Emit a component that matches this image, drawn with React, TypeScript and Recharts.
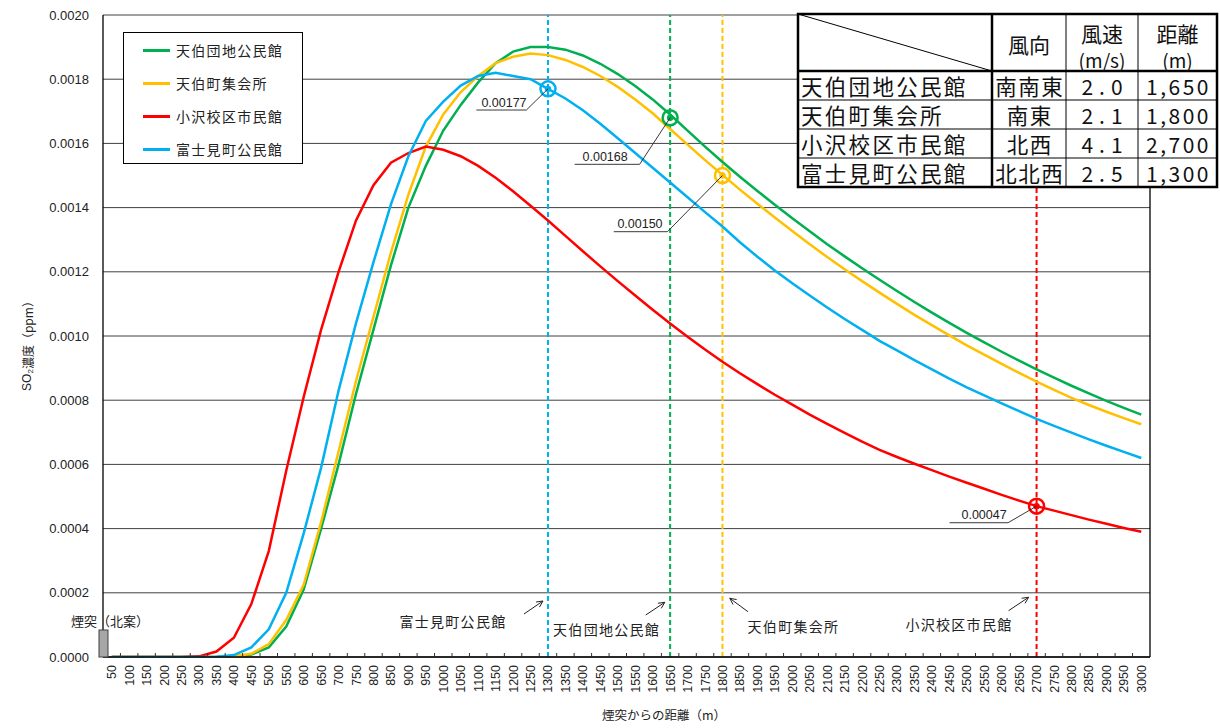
import React from 'react';
import { LineChart, Line, XAxis, YAxis, CartesianGrid, ReferenceLine, ReferenceDot, Legend } from 'recharts';

// ---- data ----
const distances = [
  50, 100, 150, 200, 250, 300, 350, 400, 450, 500,
  550, 600, 650, 700, 750, 800, 850, 900, 950, 1000,
  1050, 1100, 1150, 1200, 1250, 1300, 1350, 1400, 1450, 1500,
  1550, 1600, 1650, 1700, 1750, 1800, 1850, 1900, 1950, 2000,
  2050, 2100, 2150, 2200, 2250, 2300, 2350, 2400, 2450, 2500,
  2550, 2600, 2650, 2700, 2750, 2800, 2850, 2900, 2950, 3000,
];

// 天伯団地公民館
const tenpakuDanchi = [
  0, 0, 0, 0, 0, 0, 0, 0.000001, 0.000008, 0.00003,
  0.000095, 0.00021, 0.0004, 0.0006, 0.00082, 0.00102, 0.00122, 0.0014, 0.00153, 0.00164,
  0.00172, 0.00179, 0.00185, 0.001886, 0.0019, 0.0019, 0.001892, 0.001874, 0.001848, 0.001816,
  0.001779, 0.001737, 0.00169, 0.00164, 0.00159, 0.001542, 0.001496, 0.001452, 0.001409, 0.001367,
  0.001326, 0.001286, 0.001248, 0.001211, 0.001175, 0.00114, 0.001106, 0.001073, 0.001041, 0.00101,
  0.00098, 0.000951, 0.000923, 0.000896, 0.00087, 0.000845, 0.000821, 0.000798, 0.000776, 0.000755,
];

// 天伯町集会所
const tenpakuCho = [
  0, 0, 0, 0, 0, 0, 0, 0.000002, 0.00001, 0.00004,
  0.000115, 0.000225, 0.00042, 0.00064, 0.00086, 0.00106, 0.00126, 0.00144, 0.00159, 0.00169,
  0.00176, 0.00181, 0.00185, 0.00187, 0.00188, 0.001875, 0.00186, 0.001838, 0.00181, 0.001776,
  0.001737, 0.001694, 0.001645, 0.001596, 0.001548, 0.001502, 0.001456, 0.001412, 0.001369, 0.001327,
  0.001286, 0.001246, 0.001208, 0.001171, 0.001135, 0.0011, 0.001066, 0.001034, 0.001002, 0.000971,
  0.000942, 0.000913, 0.000885, 0.000858, 0.000832, 0.000807, 0.000785, 0.000764, 0.000744, 0.000725,
];

// 小沢校区市民館
const kozawa = [
  0, 0, 0, 0, 0, 0.000002, 0.000017, 0.00006, 0.000165, 0.00033,
  0.00058, 0.00081, 0.00102, 0.0012, 0.00136, 0.00147, 0.00154, 0.00157, 0.00159, 0.00158,
  0.00156, 0.00153, 0.001493, 0.001451, 0.001406, 0.00136, 0.001312, 0.001264, 0.001217, 0.001171,
  0.001126, 0.001082, 0.001039, 0.000998, 0.000958, 0.00092, 0.000884, 0.00085, 0.000817, 0.000786,
  0.000755, 0.000726, 0.000698, 0.000671, 0.000645, 0.000623, 0.000602, 0.000582, 0.000562, 0.000543,
  0.000524, 0.000505, 0.000487, 0.00047, 0.000456, 0.000442, 0.000428, 0.000415, 0.000402, 0.00039,
];

// 富士見町公民館
const fujimi = [
  0, 0, 0, 0, 0, 0, 0.000001, 0.000006, 0.00003, 0.000086,
  0.0002, 0.000385, 0.00059, 0.00083, 0.00104, 0.00123, 0.00141, 0.00156, 0.00167, 0.00173,
  0.00178, 0.00181, 0.00182, 0.00181, 0.0018, 0.00177, 0.00174, 0.001703, 0.001661, 0.001616,
  0.00157, 0.001524, 0.001478, 0.001432, 0.001386, 0.001341, 0.001292, 0.001247, 0.001204, 0.001164,
  0.001126, 0.001089, 0.001053, 0.001019, 0.000985, 0.000955, 0.000925, 0.000896, 0.000867, 0.00084,
  0.000815, 0.00079, 0.000766, 0.000742, 0.00072, 0.000699, 0.000678, 0.000658, 0.000639, 0.00062,
];

const stationNames = ['天伯団地公民館', '天伯町集会所', '小沢校区市民館', '富士見町公民館'];
const seriesValues = [tenpakuDanchi, tenpakuCho, kozawa, fujimi];
const windDirections = ['南南東', '南東', '北西', '北北西'];
const windSpeeds = ['2.0', '2.1', '4.1', '2.5'];
const receptorDistances = [1650, 1800, 2700, 1300];
const receptorValues = [0.00168, 0.0015, 0.00047, 0.00177];
const receptorLabels = ['0.00168', '0.00150', '0.00047', '0.00177'];
const yTicks = [0, 0.0002, 0.0004, 0.0006, 0.0008, 0.001, 0.0012, 0.0014, 0.0016, 0.0018, 0.002];

// ---- styles / layout ----
const seriesKeys = ['s0', 's1', 's2', 's3'];
const seriesColors = ['#00B050', '#FFC000', '#FF0000', '#00B0F0'];
const JP = '"Noto Sans CJK JP", "Noto Sans", sans-serif';
const NUM = '"Liberation Sans", Arial, sans-serif';

const chartData = distances.map((d, i) => {
  const row: any = { d };
  seriesKeys.forEach((k, s) => (row[k] = seriesValues[s][i]));
  return row;
});

const boundaries = distances.slice(0, -1).map((d, i) => (d + distances[i + 1]) / 2);
const xTicks = [...distances, ...boundaries].sort((a, b) => a - b);
const distSet = new Set(distances);
const xMin = distances[0] - (distances[1] - distances[0]) / 2;
const xMax = distances[distances.length - 1] + (distances[1] - distances[0]) / 2;

// annotation layouts (offsets in px from the marker centre)
const markerLayout = [
  { ux0: -95.5, ux1: -30.5, uy: 46.6, tx: -65 },
  { ux0: -108.7, ux1: -55, uy: 56.2, tx: -82.5 },
  { ux0: -87, ux1: -28.5, uy: 16.6, tx: -52.5 },
  { ux0: -71.6, ux1: -21.6, uy: 21.2, tx: -44 },
];
const stationLabelLayout = [
  { tx: -63.5, ty: -28, ax0: -24.4, ay0: -42, ax1: -5.3, ay1: -54.7 },
  { tx: 71, ty: -31, ax0: 25.5, ay0: -45.3, ax1: 7.3, ay1: -58.7 },
  { tx: -77.6, ty: -33, ax0: -28, ay0: -46.3, ax1: -8, ay1: -59.7 },
  { tx: -95, ty: -36, ax0: -24, ay0: -43, ax1: -5, ay1: -56 },
];

const XTick = (props: any) => {
  const { x, y, payload } = props;
  const v = payload.value;
  if (distSet.has(v)) {
    return (
      <text x={x} y={y} transform={`rotate(-90 ${x} ${y})`} textAnchor="end" dy="0.36em"
        fontSize={12.5} fontFamily={NUM} fill="#222">{v}</text>
    );
  }
  return <line x1={x} x2={x} y1={y - 8} y2={y - 12} stroke="#333" strokeWidth={1} />;
};

const Arrow = ({ x0, y0, x1, y1 }: any) => {
  const ang = Math.atan2(y1 - y0, x1 - x0);
  const L = 7;
  const a1 = ang + Math.PI - 0.45;
  const a2 = ang + Math.PI + 0.45;
  return (
    <g stroke="#222" strokeWidth={1} fill="none">
      <line x1={x0} y1={y0} x2={x1} y2={y1} />
      <polyline points={`${x1 + L * Math.cos(a1)},${y1 + L * Math.sin(a1)} ${x1},${y1} ${x1 + L * Math.cos(a2)},${y1 + L * Math.sin(a2)}`} />
    </g>
  );
};

const makeStationLabel = (idx: number) => (props: any) => {
  const vb = props.viewBox || {};
  const lx = vb.x;
  const by = vb.y + vb.height;
  const L = stationLabelLayout[idx];
  return (
    <g>
      <text x={lx + L.tx} y={by + L.ty} textAnchor="middle" dominantBaseline="central"
        fontSize={14} letterSpacing={1.3} fontFamily={JP} fill="#222">{stationNames[idx]}</text>
      <Arrow x0={lx + L.ax0} y0={by + L.ay0} x1={lx + L.ax1} y1={by + L.ay1} />
    </g>
  );
};

const makeMarker = (idx: number) => (props: any) => {
  const { cx, cy } = props;
  const L = markerLayout[idx];
  const c = seriesColors[idx];
  return (
    <g>
      <circle cx={cx} cy={cy} r={7.5} fill="none" stroke={c} strokeWidth={2.5} />
      <circle cx={cx} cy={cy} r={3.2} fill={c} />
      <line x1={cx + L.ux0} y1={cy + L.uy} x2={cx + L.ux1} y2={cy + L.uy} stroke="#222" strokeWidth={0.9} />
      <line x1={cx + L.ux1} y1={cy + L.uy} x2={cx} y2={cy} stroke="#222" strokeWidth={0.9} />
      <text x={cx + L.tx} y={cy + L.uy - 3.5} textAnchor="middle" fontSize={12.5} fontFamily={NUM} fill="#222">
        {receptorLabels[idx]}
      </text>
    </g>
  );
};

const LegendBox = () => (
  <div style={{ width: 180, height: 132, border: '1px solid #000', background: '#fff', position: 'relative', boxSizing: 'border-box' }}>
    {stationNames.map((n, i) => (
      <div key={n} style={{ position: 'absolute', left: 19, top: 17 + i * 33 - 10, height: 20, display: 'flex', alignItems: 'center' }}>
        <div style={{ width: 27, height: 3, background: seriesColors[i] }} />
        <span style={{ marginLeft: 6, fontFamily: JP, fontSize: 14, letterSpacing: 1.3, color: '#222', whiteSpace: 'nowrap' }}>{n}</span>
      </div>
    ))}
  </div>
);

const YLabel = (props: any) => {
  const cx = 27;
  const cy = 343;
  return (
    <text x={cx} y={cy} transform={`rotate(-90 ${cx} ${cy})`} textAnchor="middle" dominantBaseline="central"
      fontSize={12} fontFamily={JP} fill="#222">
      <tspan fontFamily={NUM}>SO</tspan>
      <tspan fontFamily={NUM} fontSize={8} dy={3}>2</tspan>
      <tspan dy={-3}>濃度（ppm）</tspan>
    </text>
  );
};

const XLabel = (props: any) => (
  <text x={664} y={714} textAnchor="middle" dominantBaseline="central" fontSize={12.5} fontFamily={JP} fill="#222">
    煙突からの距離（m）
  </text>
);

const Table = () => {
  const xs = [798, 992, 1066, 1138, 1217];
  const ys = [14, 71, 100, 129, 158, 187];
  const c2 = (xs[1] + xs[2]) / 2;
  const c3 = (xs[2] + xs[3]) / 2;
  const c4 = (xs[3] + xs[4]) / 2;
  return (
    <g>
      <rect x={xs[0]} y={ys[0]} width={xs[4] - xs[0]} height={ys[5] - ys[0]} fill="#fff" />
      {[2, 3, 4].map((r) => (
        <line key={r} x1={xs[0]} x2={xs[4]} y1={ys[r]} y2={ys[r]} stroke="#000" strokeWidth={1} />
      ))}
      {[2, 3].map((c) => (
        <line key={c} x1={xs[c]} x2={xs[c]} y1={ys[0]} y2={ys[5]} stroke="#000" strokeWidth={1} />
      ))}
      <line x1={xs[0]} y1={ys[0]} x2={xs[1]} y2={ys[1]} stroke="#000" strokeWidth={1} />
      <line x1={xs[1]} x2={xs[1]} y1={ys[0]} y2={ys[5]} stroke="#000" strokeWidth={2.5} />
      <line x1={xs[0]} x2={xs[4]} y1={ys[1]} y2={ys[1]} stroke="#000" strokeWidth={2.5} />
      <rect x={xs[0]} y={ys[0]} width={xs[4] - xs[0]} height={ys[5] - ys[0]} fill="none" stroke="#000" strokeWidth={2.5} />
      <g fontFamily={JP} fill="#111" dominantBaseline="central">
        <text x={c2} y={44} textAnchor="middle" fontSize={21}>風向</text>
        <text x={c3} y={33} textAnchor="middle" fontSize={21}>風速</text>
        <text x={c3} y={59} textAnchor="middle" fontSize={19}>(m/s)</text>
        <text x={c4} y={33} textAnchor="middle" fontSize={21}>距離</text>
        <text x={c4} y={59} textAnchor="middle" fontSize={19}>(m)</text>
        {stationNames.map((n, i) => {
          const yc = (ys[i + 1] + ys[i + 2]) / 2;
          return (
            <g key={n}>
              <text x={801} y={yc} fontSize={21.5} letterSpacing={2.3}>{n}</text>
              <text x={c2 + 0.7} y={yc} textAnchor="middle" fontSize={21.5} letterSpacing={1.5}>{windDirections[i]}</text>
              <text x={c3 + 3} y={yc} textAnchor="middle" fontSize={21} letterSpacing={6}>{windSpeeds[i]}</text>
              <text x={c4 + 1} y={yc} textAnchor="middle" fontSize={21} letterSpacing={2.5}>
                {receptorDistances[i].toLocaleString('en-US')}
              </text>
            </g>
          );
        })}
      </g>
    </g>
  );
};

export default function App() {
  return (
    <div style={{ position: 'absolute', left: 0, top: 0, width: 1220, height: 728, background: '#fff' }}>
      <LineChart width={1220} height={728} data={chartData} margin={{ top: 15, right: 70, left: 0, bottom: 0 }}>
        <CartesianGrid vertical={false} stroke="#404040" strokeWidth={1} />
        <XAxis dataKey="d" type="number" domain={[xMin, xMax]} ticks={xTicks} interval={0} height={71}
          tickSize={0} tickMargin={8} tick={<XTick />} axisLine={{ stroke: '#000', strokeWidth: 1.3 }}
          allowDataOverflow label={<XLabel />} />
        <YAxis domain={[0, 0.002]} ticks={yTicks} width={103} tickSize={0} tickMargin={14}
          tickFormatter={(v: number) => v.toFixed(4)}
          tick={{ fontSize: 13, fontFamily: NUM, fill: '#222' }}
          axisLine={{ stroke: '#000', strokeWidth: 1.3 }} allowDataOverflow label={<YLabel />} />
        <ReferenceLine x={xMax} stroke="#000" strokeWidth={1.3} />
        {receptorDistances.map((d, i) => (
          <ReferenceLine key={`rl${i}`} x={d} stroke={seriesColors[i]} strokeWidth={2} strokeDasharray="5 3"
            label={makeStationLabel(i)} />
        ))}
        <Legend layout="vertical" align="center" verticalAlign="middle"
          wrapperStyle={{ left: 123, top: 32, width: 180, height: 132 }} content={() => <LegendBox />} />
        {seriesKeys.map((k, i) => (
          <Line key={k} dataKey={k} name={stationNames[i]} type="linear" stroke={seriesColors[i]} strokeWidth={2.5}
            dot={false} activeDot={false} isAnimationActive={false} />
        ))}
        {receptorDistances.map((d, i) => (
          <ReferenceDot key={`rd${i}`} x={d} y={receptorValues[i]} r={7.5} shape={makeMarker(i)} />
        ))}
      </LineChart>
      <svg width={1220} height={728} style={{ position: 'absolute', left: 0, top: 0, pointerEvents: 'none' }}>
        <Table />
        <rect x={99} y={630} width={9} height={27} fill="#a6a6a6" stroke="#404040" strokeWidth={1} />
        <text x={110} y={620} textAnchor="middle" dominantBaseline="central" fontSize={13} fontFamily={JP} fill="#222">
          煙突（北案）
        </text>
      </svg>
    </div>
  );
}
